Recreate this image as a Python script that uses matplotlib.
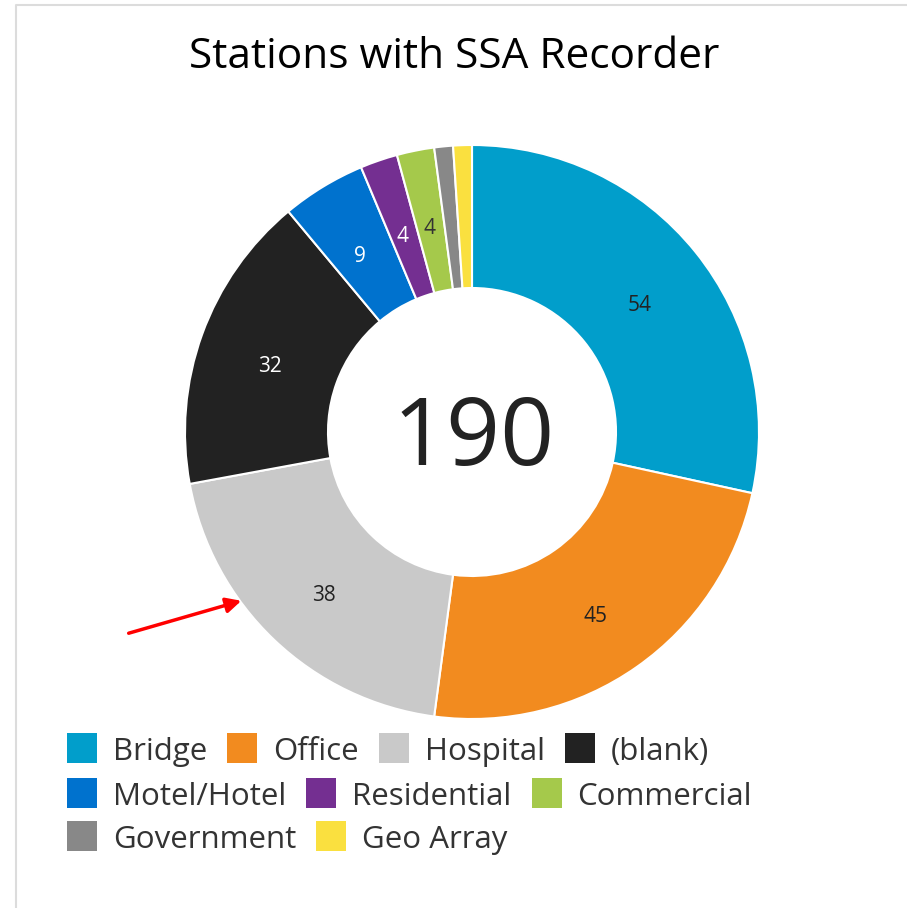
import matplotlib.pyplot as plt
from matplotlib.patches import Rectangle

# data ---------------------------------
categories = ['Bridge', 'Office', 'Hospital', '(blank)', 'Motel/Hotel',
              'Residential', 'Commercial', 'Government', 'Geo Array']
counts = [54, 45, 38, 32, 9, 4, 4, 2, 2]
colors = ['#019ECB', '#F28B1F', '#C9C9C9', '#222222', '#0072CE',
          '#742F91', '#A5C94B', '#888888', '#FAE03F']
label_colors = ['#222222', '#222222', '#222222', 'white', 'white',
                'white', '#333333', 'white', 'white']
legend_rows = [[0, 1, 2, 3], [4, 5, 6], [7, 8]]
title = 'Stations with SSA Recorder'
total = sum(counts)

plt.rcParams['font.family'] = ['Open Sans', 'DejaVu Sans']

W, H = 907, 908
fig = plt.figure(figsize=(W / 100, H / 100), dpi=100)
ax = fig.add_axes([0, 0, 1, 1])

def Y(py):
    return H - py

cx, cy, R = 472, Y(432), 287
wedges, _, autotexts = ax.pie(
    counts, colors=colors, startangle=90, counterclock=False,
    center=(cx, cy), radius=R, frame=True,
    wedgeprops=dict(width=143, edgecolor='white', linewidth=1.5),
    autopct=lambda p: '%d' % round(p * total / 100) if p * total / 100 >= 3 else '',
    pctdistance=0.75, textprops=dict(fontsize=15))
for t, c in zip(autotexts, label_colors):
    t.set_color(c)
    x, y = t.get_position()
    t.set_position((x, y - 8))
ax.set_xlim(0, W)
ax.set_ylim(0, H)
ax.set_aspect('equal')
ax.axis('off')

# frame lines
ax.plot([16, 16, W], [0, Y(5), Y(5)], color='#dcdcdc', lw=1.5)

ax.text(454, Y(57), title, fontsize=30.5, ha='center', va='center', color='black')

ax.text(cx + 2, cy - 8, str(total), fontsize=68, ha='center', va='center', color='#222222')

# red arrow
ax.annotate('', xy=(244, Y(600)), xytext=(126, Y(634)),
            arrowprops=dict(arrowstyle='-|>,head_length=0.9,head_width=0.45',
                            color='#FF0000', lw=2.5))

# legend (flow layout) -------------------
fig.canvas.draw()
renderer = fig.canvas.get_renderer()
row_y = [748, 793, 836]
sq = 30
for row, py in zip(legend_rows, row_y):
    x = 67
    for i in row:
        ax.add_patch(Rectangle((x, Y(py) - sq / 2), sq, sq, color=colors[i], lw=0))
        t = ax.text(x + sq + 16, Y(py + 12), categories[i], fontsize=22.5,
                    ha='left', va='baseline', color='#333333')
        bb = t.get_window_extent(renderer)
        x = x + sq + 16 + bb.width + 20

fig.savefig('out.png', dpi=100)
